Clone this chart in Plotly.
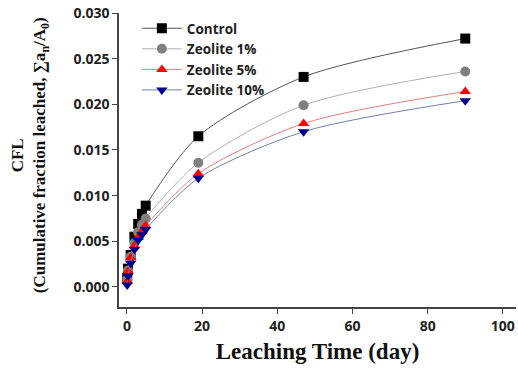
import plotly.graph_objects as go

days = [0.083, 0.29, 1, 2, 3, 4, 5, 19, 47, 90]
control = [0.0010, 0.0020, 0.0035, 0.0055, 0.0069, 0.0080, 0.0089, 0.0165, 0.0230, 0.0272]
zeo1 = [0.0008, 0.0018, 0.0033, 0.0048, 0.0060, 0.0068, 0.0075, 0.0136, 0.0199, 0.0236]
zeo5 = [0.0006, 0.0017, 0.0032, 0.0045, 0.0054, 0.0061, 0.0067, 0.0124, 0.0179, 0.0214]
zeo10 = [0.0002, 0.0012, 0.0026, 0.0041, 0.0051, 0.0057, 0.0063, 0.0119, 0.0170, 0.0204]

series = [
    ("Control", control, "#000000", "#555555", "square"),
    ("Zeolite 1%", zeo1, "#808080", "#b0b0b0", "circle"),
    ("Zeolite 5%", zeo5, "#ff0000", "#e08080", "triangle-up"),
    ("Zeolite 10%", zeo10, "#00008b", "#7080b0", "triangle-down"),
]

fig = go.Figure()
for name, vals, mc, lc, sym in series:
    fig.add_trace(go.Scatter(
        x=days, y=vals, name=name, mode="lines+markers",
        line=dict(color=lc, width=1, shape="spline", smoothing=0.8),
        marker=dict(color=mc, symbol=sym, size=10),
    ))

tickfont = dict(family="Open Sans", size=14, color="#222222", weight="bold")
fig.update_layout(
    width=518, height=374,
    margin=dict(l=119, r=2, t=13, b=67, autoexpand=False),
    paper_bgcolor="white", plot_bgcolor="white",
    showlegend=True,
    legend=dict(x=0.045, y=1.0, xanchor="left", yanchor="top",
                font=dict(family="Open Sans", size=13.5, color="#222222", weight="bold"),
                bgcolor="rgba(0,0,0,0)", tracegroupgap=0, itemwidth=40),
    xaxis=dict(range=[-2.1, 103.5], tickvals=[0, 20, 40, 60, 80, 100], automargin=False,
               showgrid=False, zeroline=False, showline=True, linecolor="#444444", linewidth=1.5,
               ticks="outside", ticklen=5, tickcolor="#444444",
               tickfont=tickfont,
               title=dict(text="Leaching Time (day)",
                          font=dict(family="Liberation Serif", size=23, color="#111111", weight="bold"),
                          standoff=9)),
    yaxis=dict(range=[-0.0022, 0.030], tickvals=[0, 0.005, 0.010, 0.015, 0.020, 0.025, 0.030],
               tickformat=".3f", automargin=False,
               showgrid=False, zeroline=False, showline=True, linecolor="#444444", linewidth=1.5,
               ticks="outside", ticklen=5, tickcolor="#444444",
               tickfont=tickfont),
)

fig.add_annotation(
    xref="paper", yref="paper", x=-0.225, y=0.515, xanchor="center", yanchor="middle",
    textangle=-90, showarrow=False,
    text="<b>CFL<br>(Cumulative fraction leached, ∑a<sub>n</sub>/A<sub>0</sub>)</b>",
    font=dict(family="Liberation Serif", size=17, color="#111111"),
)

fig.write_html("out.html", config={"displayModeBar": False},
               post_script="document.body.style.margin='0';")
